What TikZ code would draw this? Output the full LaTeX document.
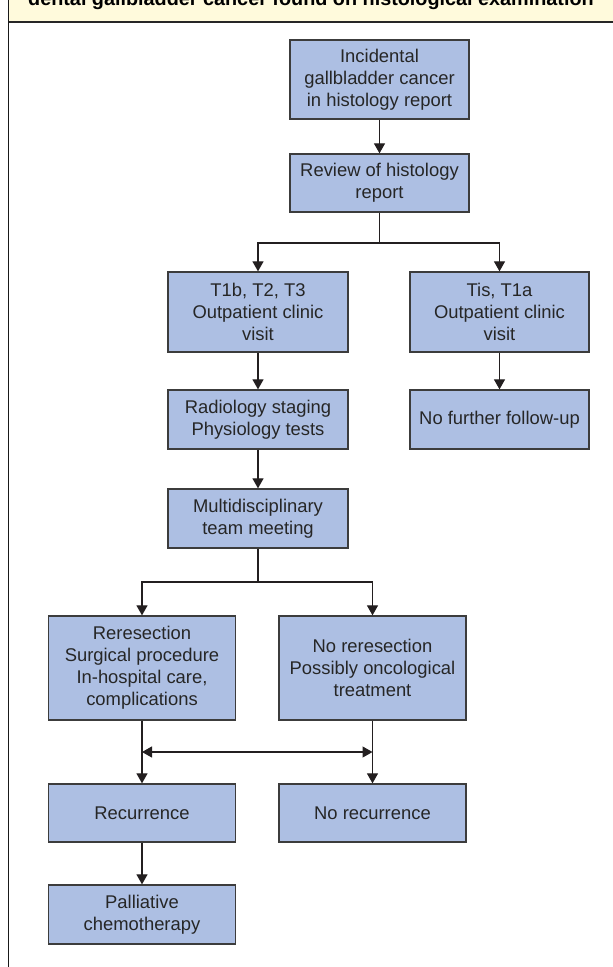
\documentclass[tikz,border=0pt]{standalone}
\usepackage{fontspec}
\setmainfont{Liberation Sans}
\usetikzlibrary{arrows.meta}
\definecolor{boxfill}{HTML}{ADBFE3}
\definecolor{boxline}{HTML}{3C3C3C}
\definecolor{headfill}{HTML}{FFFADC}
\definecolor{arrcol}{HTML}{231F20}
\tikzset{
  flowbox/.style={draw=boxline, line width=1.3pt, fill=boxfill, inner sep=0pt,
    align=center, font=\fontsize{18.4}{22}\selectfont, text=black!85},
  arr/.style={draw=arrcol, line width=1.2pt, -{Triangle[width=11pt,length=10pt]}},
  dblarr/.style={draw=arrcol, line width=1.2pt, {Triangle[width=11pt,length=10pt]}-{Triangle[width=11pt,length=10pt]}},
  plain/.style={draw=arrcol, line width=1.2pt},
}
\begin{document}
\begin{tikzpicture}[x=1pt,y=-1pt]
\useasboundingbox (0,0) rectangle (613,967);
% header band
\fill[headfill] (8,0) rectangle (613,22);
\begin{scope}
\clip (0,0) rectangle (613,22);
\node[anchor=base west, inner sep=0pt, font=\fontsize{19.8}{22}\bfseries\selectfont] (head) at (28,5.5) {dental gallbladder cancer found on histological examination};
\end{scope}
\draw[line width=1.5pt, black!85] (8,22) -- (613,22);
\draw[line width=1.6pt, black!90] (8.5,0) -- (8.5,967);
% nodes
\node[flowbox, minimum width=179pt, minimum height=79pt] (inc) at (379.5,79.5) {Incidental\\gallbladder cancer\\in histology report};
\node[flowbox, minimum width=179pt, minimum height=58pt] (rev) at (379.5,183) {Review of histology\\report};
\node[flowbox, minimum width=180pt, minimum height=80pt] (t1b) at (258,312) {T1b, T2, T3\\Outpatient clinic\\visit};
\node[flowbox, minimum width=179pt, minimum height=80pt] (tis) at (499.5,312) {Tis, T1a\\Outpatient clinic\\visit};
\node[flowbox, minimum width=180pt, minimum height=59pt] (rad) at (258,419.5) {Radiology staging\\Physiology tests};
\node[flowbox, minimum width=179pt, minimum height=59pt] (nof) at (499.5,419.5) {No further follow-up};
\node[flowbox, minimum width=180pt, minimum height=59pt] (mdt) at (258,518.5) {Multidisciplinary\\team meeting};
\node[flowbox, minimum width=187pt, minimum height=104pt] (res) at (142,668) {Reresection\\Surgical procedure\\In-hospital care,\\complications};
\node[flowbox, minimum width=187pt, minimum height=104pt] (nores) at (372.5,668) {No reresection\\Possibly oncological\\treatment};
\node[flowbox, minimum width=187pt, minimum height=58pt] (rec) at (142,813) {Recurrence};
\node[flowbox, minimum width=187pt, minimum height=58pt] (norec) at (372.5,813) {No recurrence};
\node[flowbox, minimum width=187pt, minimum height=59pt] (pal) at (142,914.5) {Palliative\\chemotherapy};
% connectors
\draw[arr] (inc.south) -- (rev.north);
\draw[plain] (rev.south) -- (379.5,243) coordinate (b1);
\draw[arr] (b1) -| (t1b.north);
\draw[arr] (b1) -| (tis.north);
\draw[arr] (t1b.south) -- (rad.north);
\draw[arr] (tis.south) -- (nof.north);
\draw[arr] (rad.south) -- (mdt.north);
\draw[plain] (mdt.south) -- (258,582) coordinate (b2);
\draw[arr] (b2) -| (res.north);
\draw[arr] (b2) -| (nores.north);
\draw[arr] (res.south) -- (rec.north);
\draw[arr] (nores.south) -- (norec.north);
\coordinate (dl) at (142,752);
\coordinate (dr) at (372.5,752);
\draw[dblarr] (dl) -- (dr);
\draw[arr] (rec.south) -- (pal.north);
\end{tikzpicture}
\end{document}
